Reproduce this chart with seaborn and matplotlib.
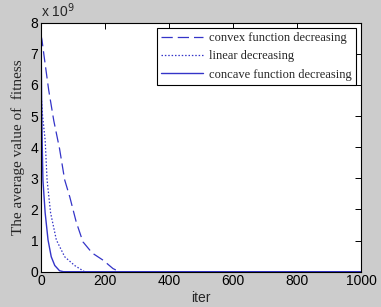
import numpy as np
import pandas as pd
import matplotlib
matplotlib.use("Agg")
import matplotlib.pyplot as plt
import seaborn as sns

# Data (values in units of 1e9)
convex_iter = [0, 3, 10, 24, 40, 58, 74, 90, 110, 131, 160, 194, 225, 245, 1000]
convex_val = [7.6, 7.45, 6.9, 5.84, 4.85, 3.95, 2.95, 2.4, 1.6, 0.96, 0.6, 0.37, 0.1, 0.0, 0.0]
linear_iter = [1, 5, 13, 19, 30, 48, 74, 105, 136, 1000]
linear_val = [5.6, 5.0, 4.23, 2.95, 1.89, 1.02, 0.48, 0.2, 0.0, 0.0]
concave_iter = [0, 2, 4, 6, 13, 22, 32, 43, 58, 70, 1000]
concave_val = [8.0, 5.5, 4.0, 2.95, 1.89, 1.02, 0.48, 0.2, 0.03, 0.0, 0.0]
labels = ["convex function decreasing", "linear decreasing", "concave function decreasing"]
xticks = [0, 200, 400, 600, 800, 1000]
yticks = [0, 1, 2, 3, 4, 5, 6, 7, 8]
scale = 1e9

sns.set_style("white")
plt.rcParams["font.family"] = ["Liberation Sans", "DejaVu Sans"]

fig = plt.figure(figsize=(3.81, 3.07), dpi=100, facecolor="#cccccc")
ax = fig.add_axes([0.1076, 0.115, 0.8399, 0.811])
ax.set_facecolor("white")

col = "#3434c8"
sns.lineplot(x=convex_iter, y=np.array(convex_val) * scale, ax=ax, color=col,
             linewidth=0.9, label=labels[0])
ax.lines[-1].set_dashes([9, 4])
sns.lineplot(x=linear_iter, y=np.array(linear_val) * scale, ax=ax, color=col,
             linewidth=0.9, label=labels[1])
ax.lines[-1].set_dashes([1.2, 1.5])
sns.lineplot(x=concave_iter, y=np.array(concave_val) * scale, ax=ax, color=col,
             linewidth=1.0, label=labels[2])

ax.set_xlim(0, 1000)
ax.set_ylim(0, 8 * scale)
ax.set_xticks(xticks)
ax.set_xticklabels([str(t) for t in xticks])
ax.set_yticks([t * scale for t in yticks])
ax.set_yticklabels([str(t) for t in yticks])
ax.tick_params(direction="in", length=4, width=0.7, top=True, right=True,
               labelsize=10, pad=2, colors="black")
for s in ax.spines.values():
    s.set_color("black")
    s.set_linewidth(0.8)

ax.text(0.0, 1.012, r"x 10$^{9}$", transform=ax.transAxes, fontsize=10,
        ha="left", va="bottom")

ax.set_xlabel("iter", fontsize=10, labelpad=2)
ax.set_ylabel("The average value of  fitness", fontsize=11,
              family=["Liberation Serif"], labelpad=4)

leg = ax.legend(loc="upper right", prop={"family": "Liberation Serif", "size": 9},
                frameon=True, fancybox=False, edgecolor="black", framealpha=1,
                handlelength=3.3, labelspacing=0.5, borderaxespad=0.4,
                borderpad=0.35, handletextpad=0.5)
leg.get_frame().set_linewidth(0.8)

fig.savefig("out.png", dpi=100, facecolor=fig.get_facecolor())
